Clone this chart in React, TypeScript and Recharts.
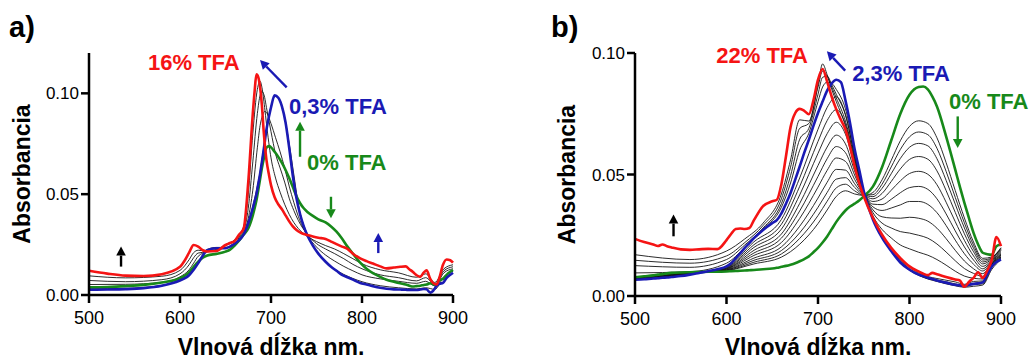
import React from 'react';
import { LineChart, Line, XAxis, YAxis, ReferenceDot } from 'recharts';

const FONT = "'Liberation Sans', Arial, Helvetica, sans-serif";
const RED = '#f51414';
const BLUE = '#1a1ab4';
const GREEN = '#17891a';
const THIN = '#141414';

// ---------- Panel a ----------
const WL_A = [500, 520, 540, 560, 580, 600, 605, 610, 615, 620, 625, 630, 640, 650, 655, 660, 665, 670, 675, 680, 682, 684, 686, 688, 690, 692, 695, 698, 700, 704, 708, 712, 716, 720, 724, 728, 732, 736, 740, 746, 752, 760, 766, 772, 778, 784, 790, 798, 805, 812, 820, 827, 835, 842, 848, 852, 856, 860, 864, 868, 871, 875, 878, 882, 885, 889, 893, 897, 900];
const RED_A = [.0120, .0106, .0096, .0094, .0103, .0140, .0170, .0210, .0248, .0240, .0222, .0216, .0218, .0248, .0258, .0268, .0300, .0330, .0560, .0900, .1010, .1094, .1080, .1030, .0940, .0810, .0670, .0590, .0545, .0485, .0450, .0425, .0395, .0365, .0340, .0322, .0310, .0302, .0297, .0290, .0284, .0278, .0265, .0252, .0240, .0229, .0205, .0182, .0168, .0156, .0142, .0132, .0136, .0140, .0142, .0128, .0114, .0098, .0090, .0112, .0122, .0080, .0060, .0052, .0085, .0150, .0176, .0172, .0160];
const BLUE_A = [.0026, .0027, .0029, .0034, .0046, .0072, .0082, .0098, .0125, .0158, .0195, .0222, .0232, .0232, .0240, .0254, .0272, .0300, .0355, .0430, .0465, .0500, .0550, .0600, .0660, .0720, .0820, .0890, .0930, .0990, .0978, .0935, .0855, .0730, .0590, .0480, .0400, .0340, .0295, .0245, .0205, .0165, .0140, .0120, .0100, .0088, .0076, .0060, .0052, .0044, .0036, .0031, .0028, .0027, .0026, .0025, .0025, .0025, .0027, .0030, .0028, .0012, .0020, .0045, .0055, .0060, .0085, .0100, .0110];
const GREEN_A = [.0038, .0040, .0044, .0050, .0062, .0083, .0095, .0112, .0140, .0165, .0185, .0196, .0204, .0215, .0225, .0245, .0270, .0300, .0330, .0395, .0430, .0470, .0520, .0575, .0630, .0675, .0730, .0738, .0732, .0710, .0685, .0655, .0620, .0580, .0535, .0490, .0455, .0430, .0412, .0392, .0375, .0360, .0340, .0314, .0280, .0240, .0205, .0160, .0130, .0108, .0090, .0076, .0066, .0058, .0052, .0046, .0042, .0044, .0046, .0050, .0052, .0058, .0055, .0048, .0072, .0080, .0100, .0115, .0124];

const WL_A_THIN = [500, 540, 580, 600, 610, 615, 620, 630, 640, 650, 660, 670, 675, 680, 685, 688, 690, 693, 695, 700, 705, 710, 715, 720, 725, 730, 740, 750, 760, 770, 780, 790, 800, 820, 840, 860, 870, 880, 890, 900];
const THIN_A1 = [.0095, .0085, .0093, .0122, .0175, .0210, .0222, .0218, .0222, .0248, .0272, .0340, .0500, .0800, .1020, .1060, .1030, .0930, .0850, .0680, .0580, .0510, .0450, .0400, .0360, .0330, .0290, .0265, .0245, .0228, .0205, .0180, .0155, .0125, .0110, .0088, .0105, .0062, .0130, .0150];
const THIN_A2 = [.0072, .0066, .0076, .0105, .0150, .0185, .0208, .0214, .0222, .0250, .0272, .0320, .0430, .0660, .0900, .0990, .1010, .0980, .0930, .0810, .0700, .0630, .0560, .0480, .0420, .0370, .0300, .0255, .0228, .0205, .0180, .0152, .0130, .0100, .0086, .0070, .0086, .0052, .0120, .0140];
const THIN_A3 = [.0052, .0053, .0063, .0090, .0125, .0158, .0192, .0215, .0226, .0245, .0268, .0310, .0380, .0520, .0730, .0840, .0880, .0910, .0905, .0850, .0780, .0710, .0630, .0540, .0460, .0390, .0295, .0238, .0198, .0168, .0142, .0120, .0100, .0080, .0068, .0058, .0068, .0045, .0110, .0130];
const THIN_A4 = [.0031, .0033, .0048, .0075, .0100, .0128, .0162, .0226, .0236, .0236, .0258, .0305, .0362, .0440, .0540, .0610, .0670, .0760, .0820, .0935, .0988, .0965, .0880, .0750, .0600, .0450, .0300, .0218, .0165, .0128, .0102, .0082, .0066, .0046, .0036, .0030, .0036, .0028, .0090, .0118];
const THIN_A = [THIN_A1, THIN_A2, THIN_A3, THIN_A4];

const TEXT_A = [
  { x: 564.8, y: 0.1116, label: '16% TFA', color: RED },
  { x: 719.8, y: 0.0900, label: '0,3% TFA', color: BLUE },
  { x: 739.6, y: 0.0620, label: '0% TFA', color: GREEN },
];
const ARROWS_A = [
  { x: 687.9, y: 0.1165, dx: 26.7, dy: 27.3, color: BLUE },
  { x: 731.9, y: 0.0859, dx: 0, dy: 35, color: GREEN },
  { x: 765.9, y: 0.0380, dx: 0, dy: -21.6, color: GREEN },
  { x: 817.9, y: 0.0307, dx: 0, dy: 20, color: BLUE },
  { x: 535.2, y: 0.0240, dx: 0, dy: 20, color: '#000' },
];

// ---------- Panel b ----------
const WL_B = [500, 510, 520, 525, 530, 535, 540, 550, 560, 570, 580, 590, 600, 605, 610, 615, 620, 625, 630, 640, 650, 655, 660, 665, 670, 675, 680, 685, 690, 695, 700, 705, 710, 715, 720, 725, 730, 735, 740, 745, 750, 760, 770, 780, 790, 800, 810, 815, 820, 825, 830, 840, 850, 855, 860, 865, 870, 875, 880, 885, 890, 895, 900];
const RED_B = [.0235, .0222, .0212, .0206, .0212, .0205, .0200, .0192, .0190, .0192, .0194, .0193, .0230, .0255, .0276, .0278, .0276, .0280, .0312, .0370, .0390, .0396, .0460, .0575, .0695, .0752, .0770, .0762, .0748, .0805, .0890, .0934, .0882, .0820, .0768, .0725, .0685, .0615, .0535, .0465, .0410, .0322, .0252, .0198, .0156, .0122, .0101, .0092, .0086, .0095, .0090, .0078, .0068, .0064, .0038, .0058, .0075, .0098, .0074, .0105, .0150, .0243, .0205];
const BLUE_B = [.0067, .0069, .0072, .0073, .0075, .0076, .0078, .0082, .0088, .0095, .0102, .0110, .0122, .0135, .0155, .0176, .0198, .0218, .0238, .0272, .0300, .0312, .0340, .0380, .0424, .0478, .0533, .0590, .0643, .0700, .0753, .0800, .0845, .0875, .0890, .0880, .0805, .0712, .0605, .0520, .0432, .0315, .0240, .0185, .0138, .0108, .0088, .0082, .0075, .0070, .0064, .0055, .0046, .0044, .0041, .0046, .0050, .0052, .0056, .0090, .0122, .0140, .0150];
const GREEN_B = [.0077, .0081, .0085, .0088, .0090, .0093, .0095, .0097, .0098, .0099, .0100, .0100, .0101, .0102, .0103, .0104, .0105, .0106, .0107, .0110, .0113, .0116, .0120, .0124, .0129, .0135, .0143, .0152, .0163, .0180, .0198, .0220, .0245, .0275, .0305, .0330, .0352, .0368, .0380, .0393, .0410, .0450, .0530, .0640, .0750, .0828, .0860, .0862, .0850, .0820, .0780, .0657, .0520, .0450, .0383, .0320, .0260, .0212, .0178, .0172, .0170, .0205, .0212];

// thin spectra between 0 % and 2,3 % TFA
const WL_B_THIN1 = [500, 560, 600, 630, 660, 680, 700, 710, 720, 730, 740, 750, 760, 770, 780, 790, 800, 810, 820, 830, 840, 850, 860, 870, 880, 890, 900];
const THIN_B01 = [.0074, .0096, .0104, .0132, .0160, .0213, .0298, .0354, .0410, .0433, .0420, .0414, .0426, .0478, .0558, .0639, .0698, .0721, .0710, .0651, .0549, .0434, .0321, .0222, .0155, .0161, .0199];
const THIN_B02 = [.0073, .0095, .0105, .0139, .0173, .0237, .0331, .0390, .0445, .0460, .0433, .0415, .0417, .0460, .0531, .0603, .0655, .0675, .0664, .0608, .0513, .0406, .0301, .0209, .0148, .0158, .0196];
const THIN_B03 = [.0073, .0095, .0107, .0147, .0187, .0260, .0365, .0426, .0481, .0487, .0447, .0416, .0409, .0443, .0503, .0566, .0612, .0628, .0618, .0565, .0476, .0378, .0280, .0196, .0140, .0156, .0192];
const THIN_B04 = [.0072, .0094, .0108, .0156, .0202, .0287, .0403, .0468, .0521, .0518, .0462, .0417, .0400, .0422, .0471, .0523, .0562, .0574, .0563, .0515, .0434, .0344, .0256, .0182, .0132, .0152, .0188];
const THIN_B05 = [.0071, .0094, .0110, .0167, .0220, .0319, .0448, .0517, .0568, .0554, .0480, .0419, .0389, .0399, .0435, .0474, .0504, .0513, .0501, .0458, .0386, .0306, .0229, .0165, .0122, .0148, .0183];
const THIN_B06 = [.0071, .0093, .0112, .0177, .0238, .0350, .0492, .0565, .0615, .0590, .0498, .0421, .0378, .0376, .0398, .0425, .0446, .0451, .0439, .0400, .0338, .0268, .0202, .0148, .0112, .0145, .0178];
const THIN_B07 = [.0070, .0093, .0113, .0188, .0255, .0381, .0537, .0613, .0662, .0626, .0515, .0422, .0367, .0352, .0362, .0375, .0389, .0389, .0377, .0343, .0290, .0230, .0174, .0131, .0103, .0141, .0173];
const THIN_B08 = [.0069, .0092, .0115, .0200, .0275, .0416, .0587, .0668, .0715, .0666, .0535, .0424, .0355, .0326, .0321, .0320, .0324, .0320, .0308, .0279, .0236, .0188, .0144, .0112, .0092, .0136, .0168];
const THIN_B09 = [.0069, .0091, .0117, .0211, .0295, .0451, .0636, .0722, .0767, .0707, .0555, .0426, .0343, .0300, .0280, .0265, .0259, .0250, .0238, .0214, .0181, .0145, .0113, .0093, .0081, .0132, .0163];
const THIN_B10 = [.0068, .0091, .0119, .0223, .0315, .0486, .0686, .0776, .0820, .0747, .0575, .0428, .0330, .0274, .0239, .0210, .0194, .0180, .0168, .0150, .0127, .0102, .0082, .0073, .0070, .0128, .0157];
const THIN_B_LOW = [THIN_B01, THIN_B02, THIN_B03, THIN_B04, THIN_B05, THIN_B06, THIN_B07, THIN_B08, THIN_B09, THIN_B10];

// thin spectra between 2,3 % and 22 % TFA
const WL_B_THIN2 = [500, 560, 600, 620, 640, 660, 670, 680, 690, 700, 705, 710, 715, 720, 730, 740, 750, 760, 770, 780, 790, 800, 810, 820, 830, 840, 850, 860, 870, 880, 890, 900];
const THIN_B11 = [.0170, .0150, .0185, .0235, .0300, .0420, .0560, .0725, .0720, .0870, .0955, .0910, .0850, .0800, .0700, .0550, .0420, .0320, .0250, .0195, .0150, .0118, .0095, .0080, .0072, .0065, .0058, .0048, .0060, .0062, .0130, .0170];
const THIN_B12 = [.0147, .0135, .0165, .0220, .0290, .0400, .0530, .0690, .0710, .0860, .0925, .0905, .0860, .0815, .0720, .0565, .0425, .0318, .0245, .0190, .0145, .0112, .0090, .0076, .0066, .0058, .0050, .0042, .0052, .0058, .0125, .0160];
const THIN_B13 = [.0125, .0118, .0150, .0210, .0280, .0380, .0495, .0645, .0690, .0830, .0900, .0905, .0870, .0830, .0745, .0580, .0428, .0316, .0242, .0186, .0140, .0108, .0086, .0072, .0062, .0052, .0045, .0040, .0047, .0050, .0120, .0155];
const THIN_B14 = [.0095, .0100, .0135, .0200, .0275, .0365, .0465, .0600, .0670, .0800, .0860, .0880, .0875, .0850, .0770, .0595, .0430, .0315, .0240, .0184, .0138, .0106, .0085, .0070, .0060, .0050, .0042, .0036, .0040, .0045, .0110, .0150];
const THIN_B_HIGH = [THIN_B11, THIN_B12, THIN_B13, THIN_B14];

const TEXT_B = [
  { x: 588.8, y: 0.0960, label: '22% TFA', color: RED },
  { x: 737.3, y: 0.0886, label: '2,3% TFA', color: BLUE },
  { x: 843.2, y: 0.0771, label: '0% TFA', color: GREEN },
];
const ARROWS_B = [
  { x: 709.7, y: 0.1007, dx: 18.3, dy: 19.3, color: BLUE },
  { x: 852.7, y: 0.0609, dx: 0, dy: -31.6, color: GREEN },
  { x: 542.1, y: 0.0335, dx: 0, dy: 21.7, color: '#000' },
];

const X_TICKS = [500, 600, 700, 800, 900];
const Y_TICKS = [0, 0.05, 0.1];

const rows = (xs: number[], ys: number[]) => xs.map((x, i) => ({ x, y: ys[i] }));

const textShape = (label: string, color: string) => (p: any) => (
  <text x={p.cx} y={p.cy} fill={color} fontSize={22} fontWeight="bold" fontFamily={FONT}>
    {label}
  </text>
);

const arrowShape = (color: string, dx: number, dy: number) => (p: any) => {
  const cx = p.cx;
  const cy = p.cy;
  const len = Math.hypot(dx, dy);
  const ux = dx / len;
  const uy = dy / len;
  const hl = 9;
  const hw = 4.8;
  const bx = cx + ux * hl;
  const by = cy + uy * hl;
  const px = -uy;
  const py = ux;
  return (
    <g>
      <line x1={bx} y1={by} x2={cx + dx} y2={cy + dy} stroke={color} strokeWidth={2.4} />
      <polygon points={`${cx},${cy} ${bx + px * hw},${by + py * hw} ${bx - px * hw},${by - py * hw}`} fill={color} />
    </g>
  );
};

const axisLine = { stroke: '#000', strokeWidth: 2.5 };
const tickLine = { stroke: '#000', strokeWidth: 2.5 };
const titleStyle = { fontSize: 23, fontWeight: 'bold', fill: '#000', fontFamily: FONT } as any;

function thinLines(wl: number[], sets: number[][], prefix: string) {
  return sets.map((s, i) => (
    <Line
      key={prefix + i}
      data={rows(wl, s)}
      dataKey="y"
      type="monotone"
      stroke={THIN}
      strokeWidth={0.9}
      dot={false}
      isAnimationActive={false}
    />
  ));
}

function mainLine(wl: number[], s: number[], color: string, key: string) {
  return (
    <Line
      key={key}
      data={rows(wl, s)}
      dataKey="y"
      type="monotone"
      stroke={color}
      strokeWidth={2.6}
      dot={false}
      isAnimationActive={false}
    />
  );
}

function annotations(texts: any[], arrows: any[], prefix: string) {
  const out: any[] = [];
  texts.forEach((t, i) =>
    out.push(
      <ReferenceDot key={prefix + 't' + i} x={t.x} y={t.y} r={0} ifOverflow="visible" shape={textShape(t.label, t.color)} />
    )
  );
  arrows.forEach((a, i) =>
    out.push(
      <ReferenceDot key={prefix + 'a' + i} x={a.x} y={a.y} r={0} ifOverflow="visible" shape={arrowShape(a.color, a.dx, a.dy)} />
    )
  );
  return out;
}

export default function App() {
  return (
    <div style={{ position: 'relative', width: 1033, height: 361, background: '#fff', overflow: 'hidden' }}>
      <style>{`body{margin:0;}`}</style>
      <div style={{ position: 'absolute', left: 0, top: 0 }}>
        <LineChart width={470} height={361} margin={{ top: 53, right: 17, bottom: 0, left: 0 }}>
          <XAxis
            dataKey="x"
            type="number"
            domain={[500, 900]}
            ticks={X_TICKS}
            interval={0}
            height={66}
            axisLine={axisLine}
            tickLine={tickLine}
            tickSize={8}
            tickMargin={8}
            tick={{ fontSize: 18, fill: '#000', fontFamily: FONT }}
            label={{ value: 'Vlnová dĺžka nm.', position: 'insideBottom', offset: 6, style: titleStyle }}
          />
          <YAxis
            dataKey="y"
            type="number"
            domain={[0, 0.12]}
            ticks={Y_TICKS}
            interval={0}
            width={89}
            axisLine={axisLine}
            tickLine={tickLine}
            tickSize={8}
            tickMargin={2}
            tickFormatter={(v: number) => v.toFixed(2)}
            tick={{ fontSize: 17, fill: '#000', fontFamily: FONT }}
            label={{ value: 'Absorbancia', angle: -90, position: 'insideLeft', offset: 22, style: { ...titleStyle, textAnchor: 'middle' } }}
          />
          {thinLines(WL_A_THIN, THIN_A, 'ta')}
          {mainLine(WL_A, GREEN_A, GREEN, 'ga')}
          {mainLine(WL_A, BLUE_A, BLUE, 'ba')}
          {mainLine(WL_A, RED_A, RED, 'ra')}
          {annotations(TEXT_A, ARROWS_A, 'A')}
        </LineChart>
      </div>
      <div style={{ position: 'absolute', left: 540, top: 0 }}>
        <LineChart width={493} height={361} margin={{ top: 53, right: 32, bottom: 0, left: 0 }}>
          <XAxis
            dataKey="x"
            type="number"
            domain={[500, 900]}
            ticks={X_TICKS}
            interval={0}
            height={65}
            axisLine={axisLine}
            tickLine={tickLine}
            tickSize={8}
            tickMargin={8}
            tick={{ fontSize: 18, fill: '#000', fontFamily: FONT }}
            label={{ value: 'Vlnová dĺžka nm.', position: 'insideBottom', offset: 6, style: titleStyle }}
          />
          <YAxis
            dataKey="y"
            type="number"
            domain={[0, 0.1]}
            ticks={Y_TICKS}
            interval={0}
            width={95}
            axisLine={axisLine}
            tickLine={tickLine}
            tickSize={8}
            tickMargin={2}
            tickFormatter={(v: number) => v.toFixed(2)}
            tick={{ fontSize: 17, fill: '#000', fontFamily: FONT }}
            label={{ value: 'Absorbancia', angle: -90, position: 'insideLeft', offset: 27, style: { ...titleStyle, textAnchor: 'middle' } }}
          />
          {thinLines(WL_B_THIN1, THIN_B_LOW, 'tl')}
          {thinLines(WL_B_THIN2, THIN_B_HIGH, 'th')}
          {mainLine(WL_B, GREEN_B, GREEN, 'gb')}
          {mainLine(WL_B, BLUE_B, BLUE, 'bb')}
          {mainLine(WL_B, RED_B, RED, 'rb')}
          {annotations(TEXT_B, ARROWS_B, 'B')}
        </LineChart>
      </div>
      <svg width={1033} height={361} style={{ position: 'absolute', left: 0, top: 0, pointerEvents: 'none' }}>
        <text x={9} y={37} fontSize={29} fontWeight="bold" fontFamily={FONT} fill="#000">a)</text>
        <text x={551} y={37} fontSize={29} fontWeight="bold" fontFamily={FONT} fill="#000">b)</text>
      </svg>
    </div>
  );
}
